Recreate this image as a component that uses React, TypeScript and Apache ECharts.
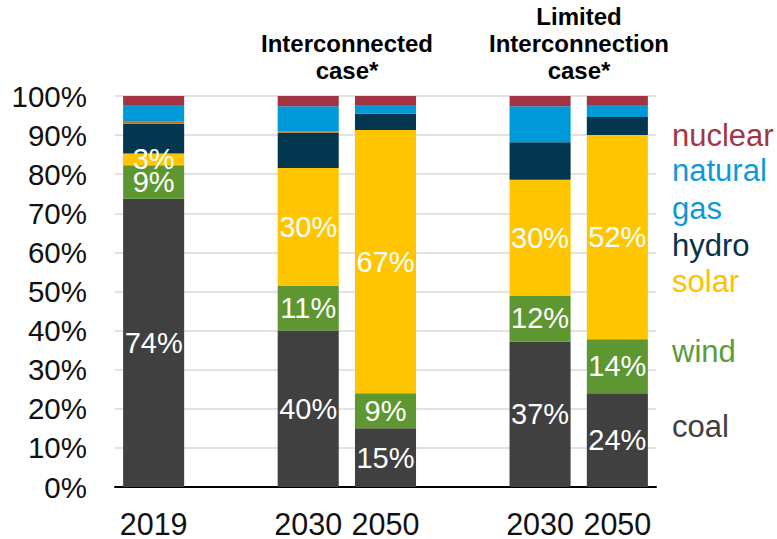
import React, { useEffect, useRef } from "react";
import * as echarts from "echarts";

const categories = ["2019", "", "2030", "2050", "", "2030", "2050"];
const coal = [73.7, null, 40.0, 15.0, null, 37.2, 24.0];
const wind = [8.6, null, 11.4, 9.0, null, 11.8, 13.8];
const solar = [3.0, null, 30.2, 67.3, null, 29.6, 52.2];
const hydro = [7.6, null, 9.0, 4.2, null, 9.6, 4.6];
const oil = [0.5, null, 0.4, 0, null, 0, 0];
const gas = [4.3, null, 6.4, 2.2, null, 9.2, 3.1];
const nuclear = [2.3, null, 2.6, 2.3, null, 2.6, 2.3];
const yTicks = [0, 10, 20, 30, 40, 50, 60, 70, 80, 90, 100];

const FONT = "'Liberation Sans', Arial, sans-serif";

const seriesDefs = [
  { name: "coal", data: coal, color: "#404040", label: true },
  { name: "wind", data: wind, color: "#5E9732", label: true },
  { name: "solar", data: solar, color: "#FFC600", label: true },
  { name: "hydro", data: hydro, color: "#02374F", label: false },
  { name: "oil", data: oil, color: "#C46E1E", label: false },
  { name: "natural gas", data: gas, color: "#0099D8", label: false },
  { name: "nuclear", data: nuclear, color: "#A13342", label: false },
];

const legendItems = [
  { text: "nuclear", color: "#A33645", y: 137 },
  { text: "natural", color: "#0E9AD8", y: 172 },
  { text: "gas", color: "#0E9AD8", y: 210 },
  { text: "hydro", color: "#06324A", y: 247 },
  { text: "solar", color: "#FFC000", y: 283 },
  { text: "wind", color: "#5B9B38", y: 353 },
  { text: "coal", color: "#404040", y: 428 },
];

export default function App() {
  const ref = useRef<HTMLDivElement>(null);
  useEffect(() => {
    if (!ref.current) return;
    const chart = echarts.init(ref.current, null, { renderer: "svg" });
    const option: any = {
      animation: false,
      textStyle: { fontFamily: FONT },
      grid: { left: 115, top: 96, width: 541, height: 392, containLabel: false },
      xAxis: {
        type: "category",
        data: categories,
        axisLine: { show: true, lineStyle: { color: "#000", width: 2 } },
        axisTick: { show: false },
        axisLabel: { fontSize: 30.5, color: "#111", margin: 21, fontFamily: FONT, interval: 0 },
        splitLine: { show: false },
      },
      yAxis: {
        type: "value",
        min: yTicks[0],
        max: yTicks[yTicks.length - 1],
        interval: 10,
        axisLine: { show: false },
        axisTick: { show: false },
        axisLabel: { fontSize: 29.5, color: "#111", margin: 28, formatter: "{value}%", fontFamily: FONT },
        splitLine: { show: true, lineStyle: { color: "#D9D9D9", width: 1.5 } },
      },
      series: seriesDefs.map((s) => ({
        name: s.name,
        type: "bar",
        stack: "total",
        barWidth: "79%",
        data: s.data,
        itemStyle: { color: s.color },
        label: {
          show: s.label,
          position: "inside",
          color: "#fff",
          fontSize: 29,
          fontFamily: FONT,
          formatter: (p: any) => (p.value == null ? "" : Math.round(p.value) + "%"),
        },
      })),
      graphic: [
        ...legendItems.map((l) => ({
          type: "text",
          left: 672,
          top: l.y - 17,
          style: { text: l.text, fill: l.color, fontSize: 31, fontFamily: FONT },
        })),
        {
          type: "text",
          x: 347,
          y: 57,
          style: {
            text: "Interconnected\ncase*",
            fill: "#000",
            fontSize: 24,
            fontWeight: "bold",
            fontFamily: FONT,
            align: "center",
            verticalAlign: "middle",
            lineHeight: 27,
          },
        },
        {
          type: "text",
          x: 579,
          y: 43,
          style: {
            text: "Limited\nInterconnection\ncase*",
            fill: "#000",
            fontSize: 24,
            fontWeight: "bold",
            fontFamily: FONT,
            align: "center",
            verticalAlign: "middle",
            lineHeight: 27,
          },
        },
      ],
    };
    chart.setOption(option);
    return () => chart.dispose();
  }, []);
  return (
    <div
      ref={ref}
      style={{ position: "fixed", left: 0, top: 0, width: 777, height: 539, background: "#fff" }}
    />
  );
}
